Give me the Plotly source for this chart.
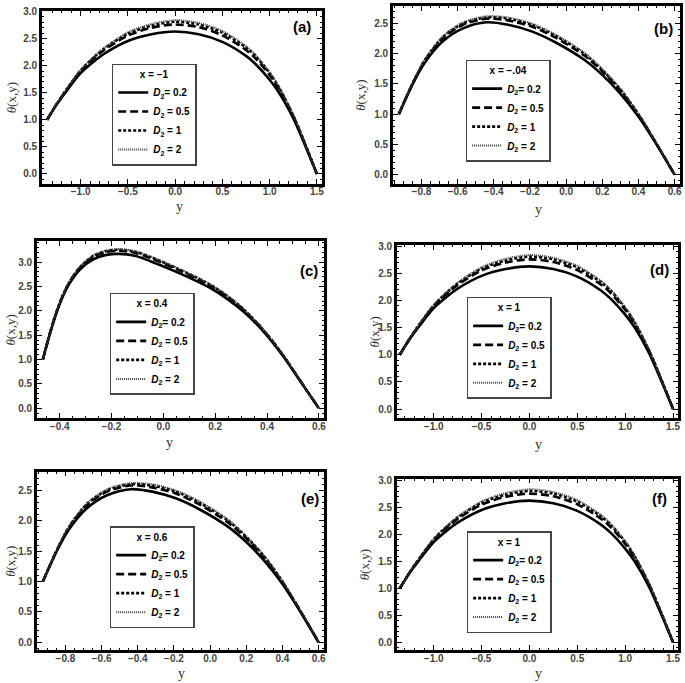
import plotly.graph_objects as go

# ---------------- data ----------------
D_LABELS = ["<i>D</i><sub>2</sub>= 0.2", "<i>D</i><sub>2</sub> = 0.5",
            "<i>D</i><sub>2</sub> = 1", "<i>D</i><sub>2</sub> = 2"]

# panel (a) x = -1 (panels d, f look identical)
Y_A = [-1.355, -1.25, -1.15, -1.0, -0.85, -0.75, -0.5, -0.25, 0.0, 0.25, 0.5, 0.75, 0.85, 1.0, 1.1, 1.25, 1.375, 1.5]
TH_A_02 = [1.00, 1.29, 1.53, 1.86, 2.09, 2.22, 2.455, 2.58, 2.63, 2.58, 2.44, 2.18, 2.03, 1.74, 1.50, 1.03, 0.53, 0.00]
TH_A_05 = [1.00, 1.30, 1.55, 1.90, 2.15, 2.29, 2.555, 2.70, 2.76, 2.71, 2.56, 2.29, 2.135, 1.83, 1.57, 1.07, 0.55, 0.00]
TH_A_1 = [1.00, 1.30, 1.56, 1.91, 2.17, 2.315, 2.59, 2.74, 2.81, 2.76, 2.61, 2.335, 2.18, 1.86, 1.595, 1.08, 0.56, 0.00]
TH_A_2 = [1.00, 1.30, 1.56, 1.92, 2.18, 2.33, 2.615, 2.77, 2.84, 2.79, 2.64, 2.36, 2.20, 1.88, 1.61, 1.09, 0.56, 0.00]

# panel (b) x = -.04 (panel e looks identical)
Y_B = [-0.925, -0.85, -0.78, -0.68, -0.57, -0.44, -0.32, -0.19, -0.06, 0.1, 0.2, 0.3, 0.4, 0.5, 0.6]
TH_B_02 = [1.00, 1.49, 1.86, 2.21, 2.42, 2.52, 2.48, 2.37, 2.19, 1.90, 1.65, 1.34, 0.96, 0.50, 0.00]
TH_B_05 = [1.00, 1.50, 1.89, 2.26, 2.48, 2.58, 2.55, 2.45, 2.27, 1.97, 1.71, 1.39, 0.99, 0.51, 0.00]
TH_B_1 = [1.00, 1.50, 1.90, 2.28, 2.50, 2.60, 2.58, 2.48, 2.30, 2.00, 1.73, 1.41, 1.00, 0.51, 0.00]
TH_B_2 = [1.00, 1.51, 1.91, 2.29, 2.52, 2.62, 2.60, 2.50, 2.32, 2.02, 1.75, 1.42, 1.01, 0.52, 0.00]

# panel (c) x = 0.4
Y_C = [-0.465, -0.45, -0.435, -0.415, -0.39, -0.36, -0.32, -0.27, -0.22, -0.17, -0.11, -0.05,
       0.05, 0.18, 0.25, 0.31, 0.37, 0.42, 0.47, 0.52, 0.56, 0.6]
TH_C_02 = [1.00, 1.30, 1.58, 1.92, 2.27, 2.58, 2.86, 3.06, 3.15, 3.17, 3.13, 3.02,
           2.80, 2.47, 2.23, 1.98, 1.67, 1.36, 1.01, 0.62, 0.31, 0.00]
TH_C_05 = [1.00, 1.30, 1.59, 1.93, 2.29, 2.61, 2.90, 3.11, 3.21, 3.235, 3.195, 3.085,
           2.86, 2.52, 2.28, 2.02, 1.70, 1.38, 1.02, 0.63, 0.31, 0.00]
TH_C_1 = [1.00, 1.30, 1.59, 1.94, 2.30, 2.61, 2.91, 3.13, 3.23, 3.255, 3.215, 3.105,
          2.88, 2.54, 2.29, 2.03, 1.70, 1.39, 1.03, 0.63, 0.31, 0.00]
TH_C_2 = [1.00, 1.30, 1.59, 1.94, 2.30, 2.62, 2.92, 3.14, 3.24, 3.27, 3.23, 3.12,
          2.89, 2.55, 2.30, 2.04, 1.71, 1.39, 1.03, 0.63, 0.31, 0.00]

X_TITLES = ["x = −1", "x = −.04", "x = 0.4", "x = 1", "x = 0.6", "x = 1"]
PANEL_TAGS = ["(a)", "(b)", "(c)", "(d)", "(e)", "(f)"]

# ---------------- layout helpers ----------------
W, H = 685, 683


def fx(p):
    return p / W


def fy(p):
    return 1 - p / H


STYLES = [
    dict(color="black", width=2.6, dash="solid"),
    dict(color="black", width=2.6, dash="8px,4px"),
    dict(color="black", width=2.6, dash="3px,2px"),
    dict(color="#444444", width=2.0, dash="1px,1px"),
]

panels = [
    dict(y=Y_A, th=[TH_A_02, TH_A_05, TH_A_1, TH_A_2], xr=[-1.41, 1.555], yr=[-0.18, 3.01], dt=0.5,
         dom=(42, 323, 6, 180), leg=(112, 59), yt=11, xt=(180, 203), tag=(303, 22)),
    dict(y=Y_B, th=[TH_B_02, TH_B_05, TH_B_1, TH_B_2], xr=[-0.958, 0.63], yr=[-0.15, 2.79], dt=0.2,
         dom=(394, 682, 1, 180), leg=(467, 55), yt=362, xt=(540, 206), tag=(665, 24)),
    dict(y=Y_C, th=[TH_C_02, TH_C_05, TH_C_1, TH_C_2], xr=[-0.488, 0.62], yr=[-0.2, 3.43], dt=0.2,
         dom=(37, 325, 238, 416), leg=(110, 290), yt=11, xt=(170, 441), tag=(310, 267)),
    dict(y=Y_A, th=[TH_A_02, TH_A_05, TH_A_1, TH_A_2], xr=[-1.385, 1.552], yr=[-0.165, 3.02], dt=0.5,
         dom=(398, 680, 242, 416), leg=(468, 294), yt=376, xt=(540, 443), tag=(661, 266)),
    dict(y=Y_B, th=[TH_B_02, TH_B_05, TH_B_1, TH_B_2], xr=[-0.958, 0.63], yr=[-0.13, 2.81], dt=0.2,
         dom=(37, 325, 470, 650), leg=(110, 525), yt=11, xt=(182, 673), tag=(311, 497)),
    dict(y=Y_A, th=[TH_A_02, TH_A_05, TH_A_1, TH_A_2], xr=[-1.385, 1.552], yr=[-0.147, 3.04], dt=0.5,
         dom=(398, 680, 477, 650), leg=(468, 530), yt=365, xt=(540, 673), tag=(661, 497)),
]

fig = go.Figure()
layout = dict(width=W, height=H, autosize=False, margin=dict(l=0, r=0, t=0, b=0),
              paper_bgcolor="white", plot_bgcolor="white", showlegend=True)
annotations = []

TICKFONT = dict(family="Liberation Sans", size=10, color="#444444", weight="bold")
LEGFONT = dict(family="Liberation Sans", size=10, color="black", weight="bold")

for i, p in enumerate(panels):
    n = i + 1
    xa = "x" if n == 1 else f"x{n}"
    ya = "y" if n == 1 else f"y{n}"
    lg = "legend" if n == 1 else f"legend{n}"
    for k in range(4):
        fig.add_trace(go.Scatter(
            x=p["y"], y=p["th"][k], mode="lines", name=D_LABELS[k],
            line=dict(shape="spline", smoothing=0.8, **STYLES[k]),
            xaxis=xa, yaxis=ya, legend=lg, hoverinfo="skip"))
    x0, x1, y0, y1 = p["dom"]
    axis_common = dict(showline=True, linewidth=2.5, linecolor="black", mirror="allticks",
                       ticks="inside", ticklen=5, tickwidth=1, tickcolor="black",
                       showgrid=False, zeroline=False, tickfont=TICKFONT, tickformat=".1f")
    layout["xaxis" if n == 1 else f"xaxis{n}"] = dict(
        domain=[fx(x0), fx(x1)], range=p["xr"], dtick=p["dt"], tick0=0,
        anchor=ya, ticklabelstandoff=-3,
        minor=dict(ticks="inside", ticklen=2.5, dtick=0.1 if p["dt"] == 0.5 else 0.05,
                   tickcolor="black"), **axis_common)
    layout["yaxis" if n == 1 else f"yaxis{n}"] = dict(
        domain=[fy(y1), fy(y0)], range=p["yr"], dtick=0.5, tick0=0,
        anchor=xa, minor=dict(ticks="inside", ticklen=2.5, dtick=0.1, tickcolor="black"),
        **axis_common)
    layout[lg] = dict(
        x=fx(p["leg"][0]), y=fy(p["leg"][1]), xanchor="left", yanchor="top",
        xref="paper", yref="paper",
        bgcolor="white", bordercolor="#444444", borderwidth=1.5,
        font=LEGFONT,
        title=dict(text=X_TITLES[i], side="top center", font=LEGFONT),
        tracegroupgap=0, itemwidth=30)
    annotations.append(dict(x=fx(p["yt"]), y=fy((y0 + y1) / 2), xref="paper", yref="paper",
                            xanchor="center", yanchor="middle",
                            text="<i>θ</i>(x,y)", textangle=-90, showarrow=False,
                            font=dict(family="Liberation Serif", size=13, color="#333333")))
    annotations.append(dict(x=fx(p["xt"][0]), y=fy(p["xt"][1]), xref="paper", yref="paper",
                            xanchor="center", yanchor="middle",
                            text="y", showarrow=False,
                            font=dict(family="Liberation Serif", size=14, color="#333333")))
    annotations.append(dict(x=fx(p["tag"][0]), y=fy(p["tag"][1]), xref="paper", yref="paper",
                            xanchor="center", yanchor="middle",
                            text=PANEL_TAGS[i], showarrow=False,
                            font=dict(family="Liberation Sans", size=15, color="black", weight="bold")))

layout["annotations"] = annotations
fig.update_layout(**layout)

fig.write_html("out.html", config={"displayModeBar": False},
               post_script="document.body.style.margin='0';")
